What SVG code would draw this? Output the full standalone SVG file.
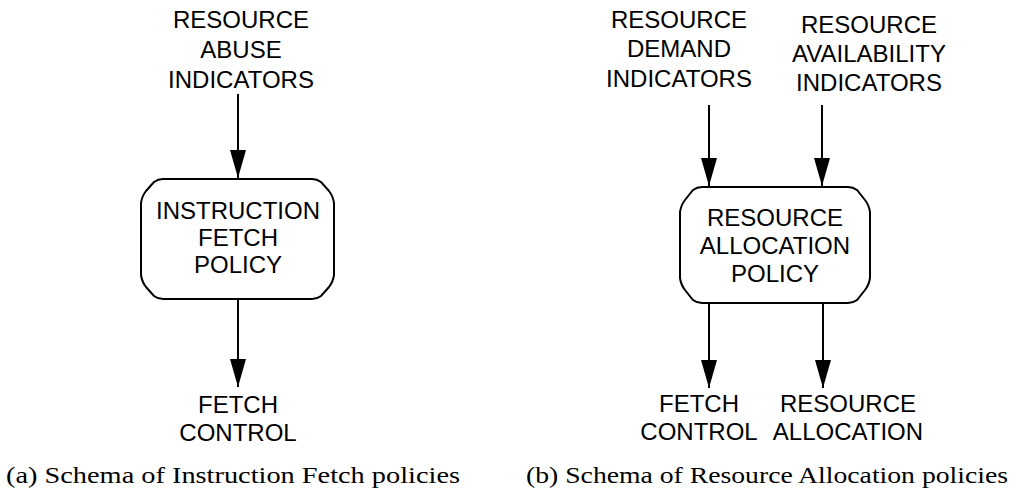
<svg xmlns="http://www.w3.org/2000/svg" width="1029" height="494" viewBox="0 0 1029 494">
<style>
.lbl{font-family:"Liberation Sans",Arial,sans-serif;font-size:24px;fill:#000;text-anchor:middle}
.box{fill:#fff;stroke:#000;stroke-width:2}
.conn{stroke:#000;stroke-width:2;fill:none}
.cap{font-family:"Liberation Serif","Times New Roman",serif;font-size:24px;fill:#000}
</style>
<defs>
<marker id="ah" markerUnits="userSpaceOnUse" markerWidth="28" markerHeight="16" viewBox="0 0 28 16" refX="28" refY="8" orient="auto">
<polygon points="0,0 28,8 0,16" fill="#000"/>
</marker>
</defs>
<rect width="1029" height="494" fill="#fff"/>
<g id="connectors">
<line class="conn" x1="238" y1="94" x2="238" y2="178" marker-end="url(#ah)"/>
<line class="conn" x1="238" y1="299" x2="238" y2="387" marker-end="url(#ah)"/>
<line class="conn" x1="709" y1="105" x2="709" y2="186" marker-end="url(#ah)"/>
<line class="conn" x1="822" y1="105" x2="822" y2="186" marker-end="url(#ah)"/>
<line class="conn" x1="709" y1="303" x2="709" y2="388" marker-end="url(#ah)"/>
<line class="conn" x1="823" y1="303" x2="823" y2="388" marker-end="url(#ah)"/>
</g>
<g id="abuse">
<text class="lbl" x="241" y="28">RESOURCE</text>
<text class="lbl" x="241" y="58">ABUSE</text>
<text class="lbl" x="241" y="88">INDICATORS</text>
</g>
<g id="fetch-policy">
<path class="box" d="M163,179 L312,179 Q317,179 321,182 L329,191 Q333,196 334,203 L334,275 Q333,282 329,287 L321,296 Q317,299 312,299 L163,299 Q158,299 154,296 L146,287 Q142,282 141,275 L141,203 Q142,196 146,191 L154,182 Q158,179 163,179 Z"/>
<text class="lbl" x="238" y="219">INSTRUCTION</text>
<text class="lbl" x="238" y="246">FETCH</text>
<text class="lbl" x="238" y="273">POLICY</text>
</g>
<g id="fetch-control-a">
<text class="lbl" x="238" y="413">FETCH</text>
<text class="lbl" x="238" y="441">CONTROL</text>
</g>
<g id="demand">
<text class="lbl" x="679" y="28">RESOURCE</text>
<text class="lbl" x="679" y="57">DEMAND</text>
<text class="lbl" x="679" y="87">INDICATORS</text>
</g>
<g id="availability">
<text class="lbl" x="869" y="33">RESOURCE</text>
<text class="lbl" x="869" y="62">AVAILABILITY</text>
<text class="lbl" x="869" y="91">INDICATORS</text>
</g>
<g id="allocation-policy">
<path class="box" d="M702,187 L848,187 Q853,187 857,190 L865,200 Q869,205 870,212 L870,278 Q869,285 865,290 L857,300 Q853,303 848,303 L702,303 Q697,303 693,300 L685,290 Q681,285 680,278 L680,212 Q681,205 685,200 L693,190 Q697,187 702,187 Z"/>
<text class="lbl" x="775" y="226">RESOURCE</text>
<text class="lbl" x="775" y="254">ALLOCATION</text>
<text class="lbl" x="775" y="282">POLICY</text>
</g>
<g id="fetch-control-b">
<text class="lbl" x="699" y="412">FETCH</text>
<text class="lbl" x="699" y="440">CONTROL</text>
</g>
<g id="resource-allocation">
<text class="lbl" x="848" y="412">RESOURCE</text>
<text class="lbl" x="848" y="440">ALLOCATION</text>
</g>
<g id="captions">
<text class="cap" x="6" y="483" textLength="454" lengthAdjust="spacingAndGlyphs">(a) Schema of Instruction Fetch policies</text>
<text class="cap" x="526" y="483" textLength="482" lengthAdjust="spacingAndGlyphs">(b) Schema of Resource Allocation policies</text>
</g>
</svg>
